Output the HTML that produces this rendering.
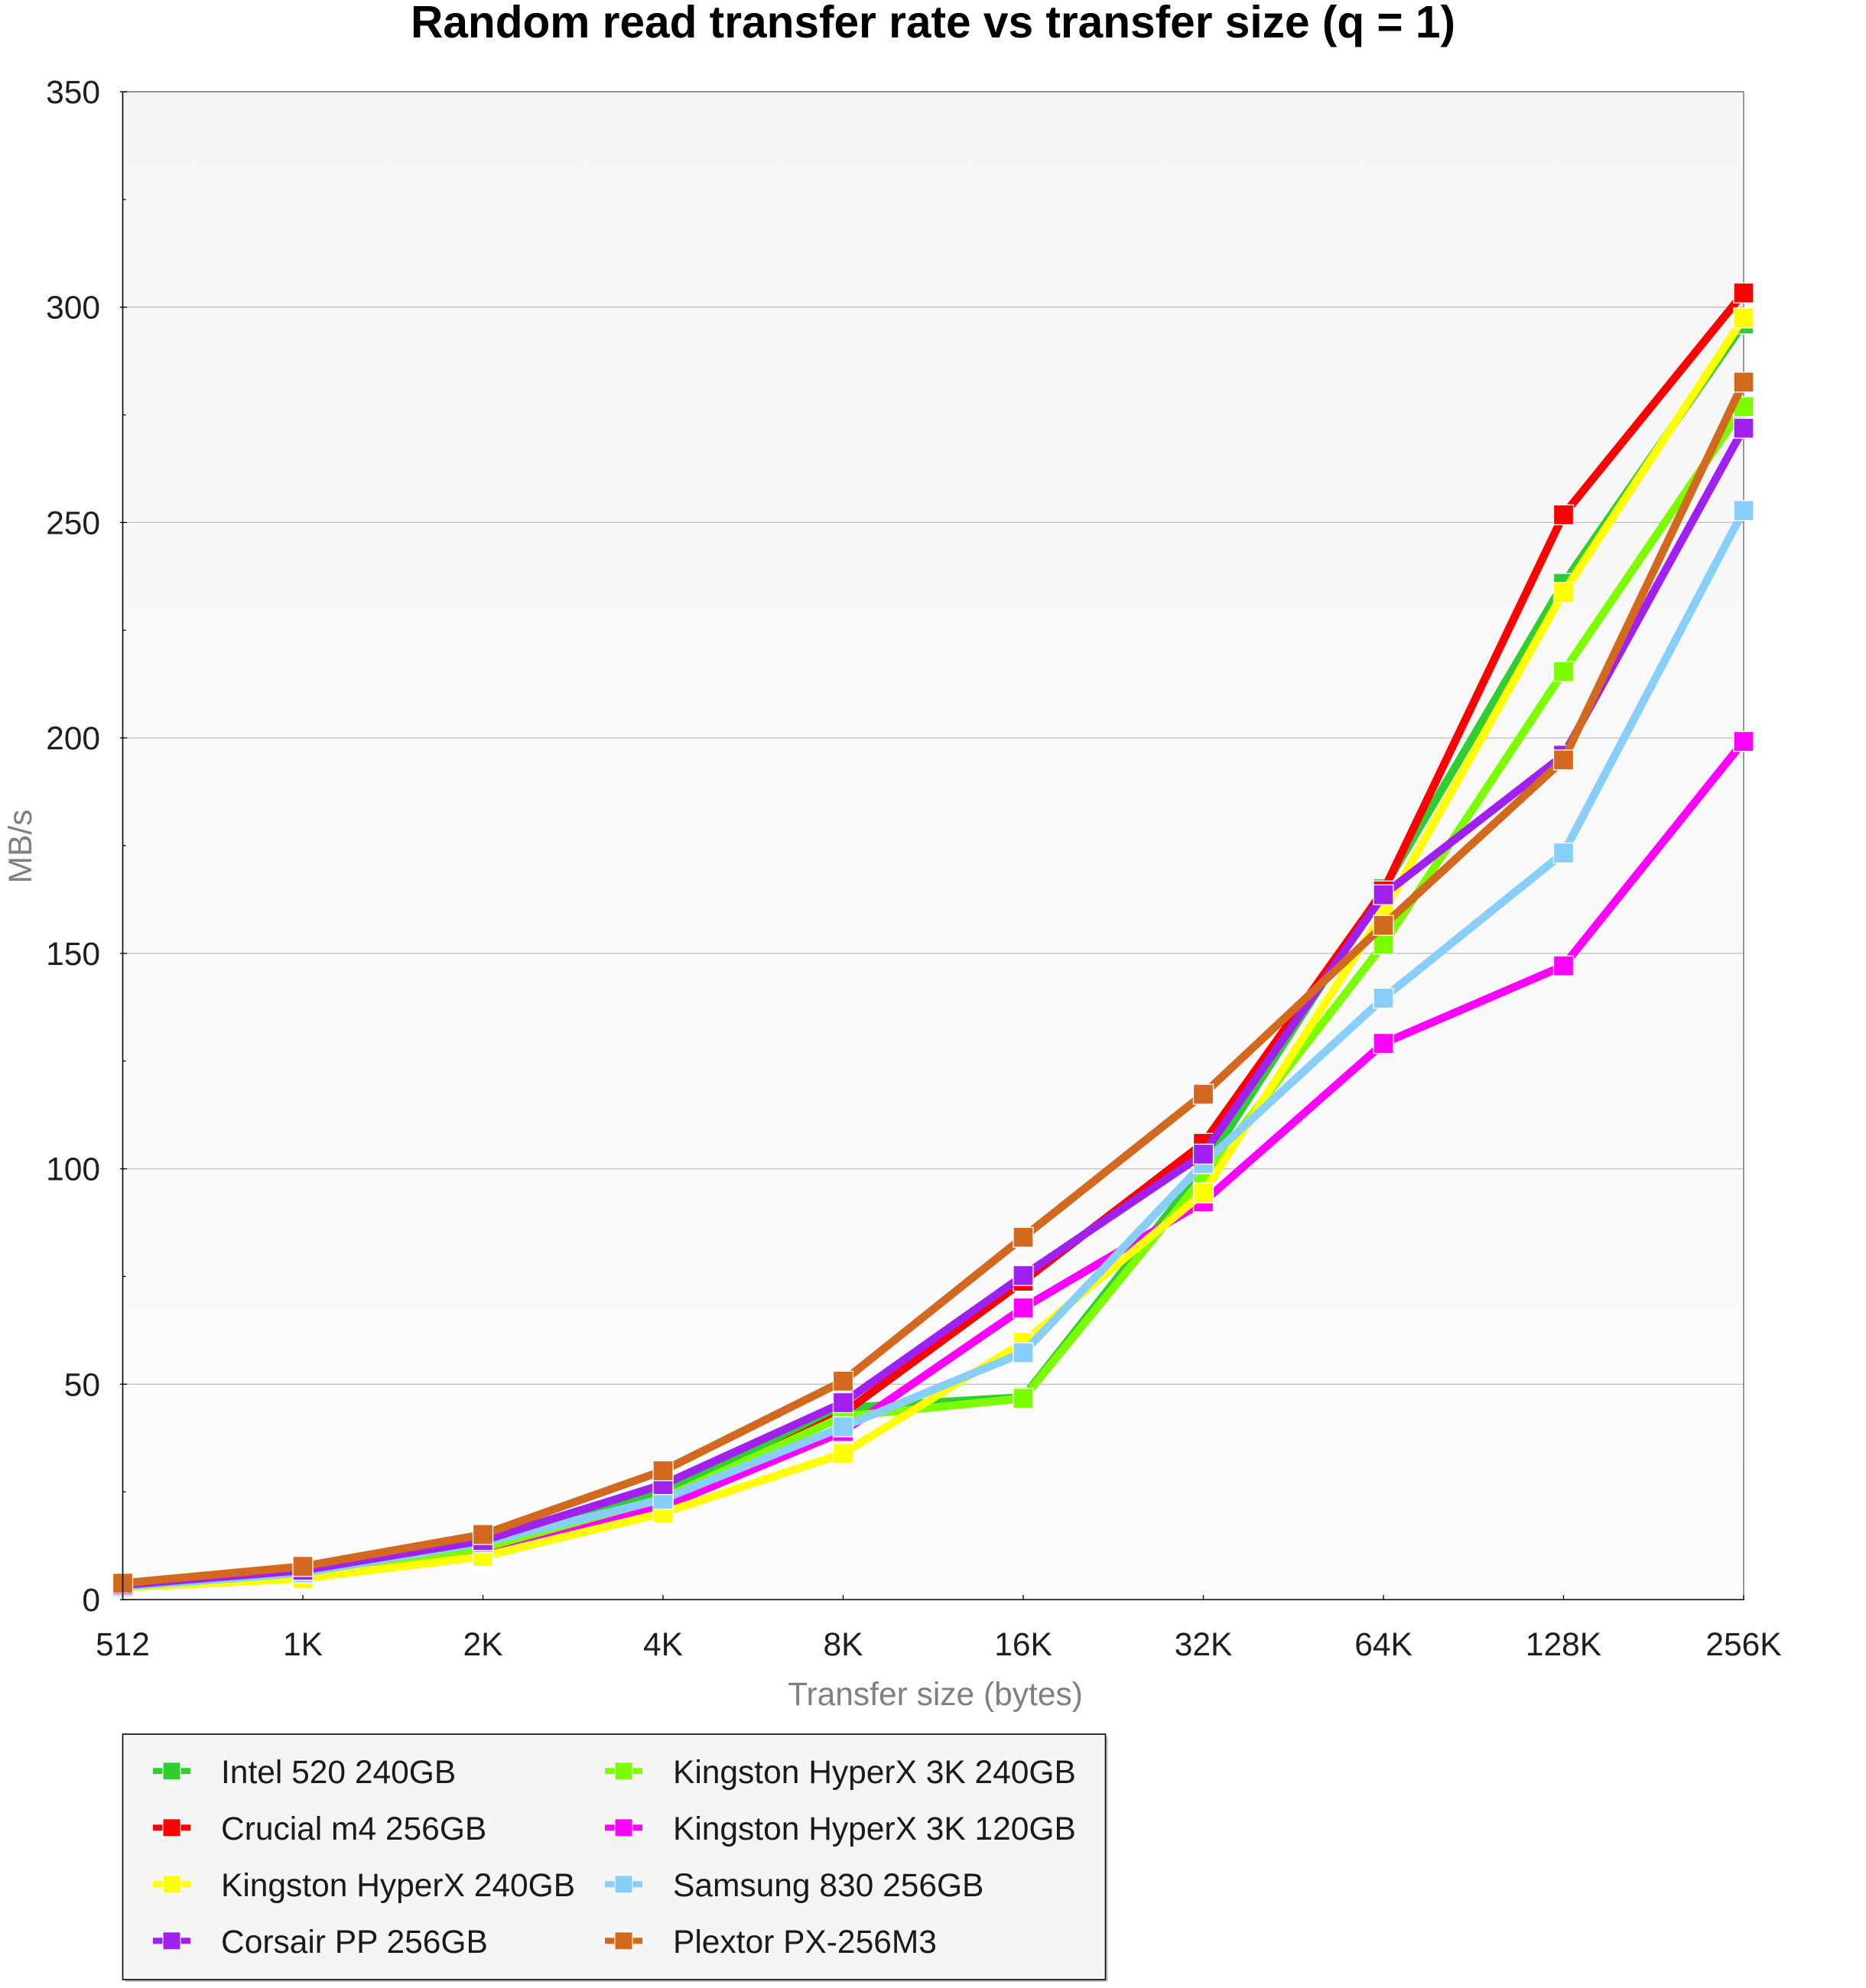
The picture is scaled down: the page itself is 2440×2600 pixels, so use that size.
<!DOCTYPE html>
<html>
<head>
<meta charset="utf-8">
<style>
html,body{margin:0;padding:0;background:#fff;}
svg{display:block;}
text{font-family:"Liberation Sans",Arial,sans-serif;}
</style>
</head>
<body>
<svg width="2440" height="2600" viewBox="0 0 2440 2600" xmlns="http://www.w3.org/2000/svg">
<defs>
<linearGradient id="bg" x1="0" y1="0" x2="0" y2="1">
<stop offset="0" stop-color="#f5f5f5"/>
<stop offset="1" stop-color="#fcfcfc"/>
</linearGradient>
<marker id="m1" markerUnits="userSpaceOnUse" markerWidth="30" markerHeight="30" refX="15" refY="15" overflow="visible"><rect x="2" y="2" width="26" height="26" fill="#32cd32" stroke="#fff" stroke-width="1.3"/></marker>
<marker id="m2" markerUnits="userSpaceOnUse" markerWidth="30" markerHeight="30" refX="15" refY="15" overflow="visible"><rect x="2" y="2" width="26" height="26" fill="#ff0000" stroke="#fff" stroke-width="1.3"/></marker>
<marker id="m3" markerUnits="userSpaceOnUse" markerWidth="30" markerHeight="30" refX="15" refY="15" overflow="visible"><rect x="2" y="2" width="26" height="26" fill="#ffff00" stroke="#fff" stroke-width="1.3"/></marker>
<marker id="m4" markerUnits="userSpaceOnUse" markerWidth="30" markerHeight="30" refX="15" refY="15" overflow="visible"><rect x="2" y="2" width="26" height="26" fill="#a020f0" stroke="#fff" stroke-width="1.3"/></marker>
<marker id="m5" markerUnits="userSpaceOnUse" markerWidth="30" markerHeight="30" refX="15" refY="15" overflow="visible"><rect x="2" y="2" width="26" height="26" fill="#7cfc00" stroke="#fff" stroke-width="1.3"/></marker>
<marker id="m6" markerUnits="userSpaceOnUse" markerWidth="30" markerHeight="30" refX="15" refY="15" overflow="visible"><rect x="2" y="2" width="26" height="26" fill="#ff00ff" stroke="#fff" stroke-width="1.3"/></marker>
<marker id="m7" markerUnits="userSpaceOnUse" markerWidth="30" markerHeight="30" refX="15" refY="15" overflow="visible"><rect x="2" y="2" width="26" height="26" fill="#87cefa" stroke="#fff" stroke-width="1.3"/></marker>
<marker id="m8" markerUnits="userSpaceOnUse" markerWidth="30" markerHeight="30" refX="15" refY="15" overflow="visible"><rect x="2" y="2" width="26" height="26" fill="#d2691e" stroke="#fff" stroke-width="1.3"/></marker>
</defs>

<!-- Title -->
<text x="1220" y="49" text-anchor="middle" font-size="59" font-weight="bold" fill="#000" textLength="1366" lengthAdjust="spacingAndGlyphs">Random read transfer rate vs transfer size (q = 1)</text>

<!-- Plot background -->
<rect x="160.5" y="120" width="2119.5" height="1972" fill="url(#bg)"/>

<!-- Grid lines -->
<g stroke="#c0c0c0" stroke-width="1.3">
<line x1="161" y1="1810.3" x2="2280" y2="1810.3"/>
<line x1="161" y1="1528.6" x2="2280" y2="1528.6"/>
<line x1="161" y1="1246.9" x2="2280" y2="1246.9"/>
<line x1="161" y1="965.1" x2="2280" y2="965.1"/>
<line x1="161" y1="683.4" x2="2280" y2="683.4"/>
<line x1="161" y1="401.7" x2="2280" y2="401.7"/>
</g>

<!-- top & right border -->
<line x1="160.5" y1="120" x2="2280" y2="120" stroke="#707070" stroke-width="1.4"/>
<line x1="2280" y1="120" x2="2280" y2="2092" stroke="#707070" stroke-width="1.4"/>

<!-- Series -->
<g fill="none" stroke-width="10.5" stroke-linejoin="round">
<polyline stroke="#32cd32" marker-start="url(#m1)" marker-mid="url(#m1)" marker-end="url(#m1)" points="160.5,2073.97 396,2055.38 631.5,2019.88 867,1948.33 1102.5,1841.27 1338,1827.19 1573.5,1528.57 1809,1162.34 2044.5,762.87 2280,423.68"/>
<polyline stroke="#ff0000" marker-start="url(#m2)" marker-mid="url(#m2)" marker-end="url(#m2)" points="160.5,2075.10 396,2058.19 631.5,2025.52 867,1965.23 1102.5,1848.60 1338,1675.63 1573.5,1495.33 1809,1165.16 2044.5,673.28 2280,383.12"/>
<polyline stroke="#ff00ff" marker-start="url(#m6)" marker-mid="url(#m6)" marker-end="url(#m6)" points="160.5,2075.10 396,2058.19 631.5,2027.21 867,1970.86 1102.5,1872.26 1338,1710.56 1573.5,1571.95 1809,1364.61 2044.5,1263.19 2280,969.65"/>
<polyline stroke="#7cfc00" marker-start="url(#m5)" marker-mid="url(#m5)" marker-end="url(#m5)" points="160.5,2075.10 396,2058.19 631.5,2024.39 867,1959.59 1102.5,1852.54 1338,1828.88 1573.5,1539.84 1809,1235.02 2044.5,878.37 2280,531.86"/>
<polyline stroke="#ffff00" marker-start="url(#m3)" marker-mid="url(#m3)" marker-end="url(#m3)" points="160.5,2076.51 396,2064.39 631.5,2035.66 867,1978.75 1102.5,1901.00 1338,1755.63 1573.5,1560.12 1809,1193.33 2044.5,774.70 2280,415.80"/>
<polyline stroke="#87cefa" marker-start="url(#m7)" marker-mid="url(#m7)" marker-end="url(#m7)" points="160.5,2075.10 396,2057.07 631.5,2017.63 867,1960.72 1102.5,1866.06 1338,1769.15 1573.5,1521.81 1809,1305.45 2044.5,1115.58 2280,667.65"/>
<polyline stroke="#a020f0" marker-start="url(#m4)" marker-mid="url(#m4)" marker-end="url(#m4)" points="160.5,2072.84 396,2053.69 631.5,2014.81 867,1941.56 1102.5,1834.51 1338,1668.30 1573.5,1509.41 1809,1170.23 2044.5,987.68 2280,560.03"/>
<polyline stroke="#d2691e" marker-start="url(#m8)" marker-mid="url(#m8)" marker-end="url(#m8)" points="160.5,2070.59 396,2048.62 631.5,2006.92 867,1923.53 1102.5,1806.34 1338,1618.16 1573.5,1431.10 1809,1210.23 2044.5,993.87 2280,499.75"/>
</g>

<!-- Axes -->
<line x1="160.5" y1="120" x2="160.5" y2="2093" stroke="#000" stroke-width="1.6"/>
<line x1="160" y1="2092" x2="2281" y2="2092" stroke="#000" stroke-width="1.6"/>

<!-- Y ticks -->
<g stroke="#000" stroke-width="1.3">
<line x1="157" y1="2092" x2="166" y2="2092"/>
<line x1="157" y1="1810.3" x2="166" y2="1810.3"/>
<line x1="157" y1="1528.6" x2="166" y2="1528.6"/>
<line x1="157" y1="1246.9" x2="166" y2="1246.9"/>
<line x1="157" y1="965.1" x2="166" y2="965.1"/>
<line x1="157" y1="683.4" x2="166" y2="683.4"/>
<line x1="157" y1="401.7" x2="166" y2="401.7"/>
<line x1="157" y1="120" x2="166" y2="120"/>
<line x1="160" y1="1951.1" x2="164.5" y2="1951.1"/>
<line x1="160" y1="1669.4" x2="164.5" y2="1669.4"/>
<line x1="160" y1="1387.7" x2="164.5" y2="1387.7"/>
<line x1="160" y1="1106.0" x2="164.5" y2="1106.0"/>
<line x1="160" y1="824.3" x2="164.5" y2="824.3"/>
<line x1="160" y1="542.6" x2="164.5" y2="542.6"/>
<line x1="160" y1="260.9" x2="164.5" y2="260.9"/>
</g>

<!-- X ticks -->
<g stroke="#000" stroke-width="1.3">
<line x1="396" y1="2086" x2="396" y2="2092"/>
<line x1="631.5" y1="2086" x2="631.5" y2="2092"/>
<line x1="867" y1="2086" x2="867" y2="2092"/>
<line x1="1102.5" y1="2086" x2="1102.5" y2="2092"/>
<line x1="1338" y1="2086" x2="1338" y2="2092"/>
<line x1="1573.5" y1="2086" x2="1573.5" y2="2092"/>
<line x1="1809" y1="2086" x2="1809" y2="2092"/>
<line x1="2044.5" y1="2086" x2="2044.5" y2="2092"/>
<line x1="2280" y1="2086" x2="2280" y2="2092"/>
</g>

<!-- Y labels -->
<g font-size="42.5" fill="#1e1e1e" text-anchor="end">
<text x="131" y="2107">0</text>
<text x="131" y="1825.3">50</text>
<text x="131" y="1543.6">100</text>
<text x="131" y="1261.9">150</text>
<text x="131" y="980.1">200</text>
<text x="131" y="698.4">250</text>
<text x="131" y="416.7">300</text>
<text x="131" y="135">350</text>
</g>

<!-- X labels -->
<g font-size="42.5" fill="#1e1e1e" text-anchor="middle">
<text x="160.5" y="2165">512</text>
<text x="396" y="2165">1K</text>
<text x="631.5" y="2165">2K</text>
<text x="867" y="2165">4K</text>
<text x="1102.5" y="2165">8K</text>
<text x="1338" y="2165">16K</text>
<text x="1573.5" y="2165">32K</text>
<text x="1809" y="2165">64K</text>
<text x="2044.5" y="2165">128K</text>
<text x="2280" y="2165">256K</text>
</g>

<!-- Axis titles -->
<text x="1223" y="2230" font-size="42.5" fill="#808080" text-anchor="middle">Transfer size (bytes)</text>
<text transform="translate(41,1107) rotate(-90)" x="0" y="0" font-size="42.5" fill="#808080" text-anchor="middle">MB/s</text>

<!-- Legend -->
<rect x="163.5" y="2271" width="1285" height="321" fill="#c0c0c0"/>
<rect x="160.5" y="2268" width="1285" height="321" fill="#f5f5f5" stroke="#000" stroke-width="1.6"/>

<g>
<rect x="200" y="2312.3" width="49" height="8" fill="#32cd32"/>
<rect x="213" y="2304.8" width="23" height="23" fill="#32cd32" stroke="#fff" stroke-width="1"/>
<rect x="200" y="2386.3" width="49" height="8" fill="#ff0000"/>
<rect x="213" y="2378.8" width="23" height="23" fill="#ff0000" stroke="#fff" stroke-width="1"/>
<rect x="200" y="2460.3" width="49" height="8" fill="#ffff00"/>
<rect x="213" y="2452.8" width="23" height="23" fill="#ffff00" stroke="#fff" stroke-width="1"/>
<rect x="200" y="2534.3" width="49" height="8" fill="#a020f0"/>
<rect x="213" y="2526.8" width="23" height="23" fill="#a020f0" stroke="#fff" stroke-width="1"/>

<rect x="791" y="2312.3" width="49" height="8" fill="#7cfc00"/>
<rect x="804" y="2304.8" width="23" height="23" fill="#7cfc00" stroke="#fff" stroke-width="1"/>
<rect x="791" y="2386.3" width="49" height="8" fill="#ff00ff"/>
<rect x="804" y="2378.8" width="23" height="23" fill="#ff00ff" stroke="#fff" stroke-width="1"/>
<rect x="791" y="2460.3" width="49" height="8" fill="#87cefa"/>
<rect x="804" y="2452.8" width="23" height="23" fill="#87cefa" stroke="#fff" stroke-width="1"/>
<rect x="791" y="2534.3" width="49" height="8" fill="#d2691e"/>
<rect x="804" y="2526.8" width="23" height="23" fill="#d2691e" stroke="#fff" stroke-width="1"/>
</g>

<g font-size="42.5" fill="#1a1a1a">
<text x="289" y="2332">Intel 520 240GB</text>
<text x="289" y="2406">Crucial m4 256GB</text>
<text x="289" y="2480">Kingston HyperX 240GB</text>
<text x="289" y="2554">Corsair PP 256GB</text>
<text x="880" y="2332">Kingston HyperX 3K 240GB</text>
<text x="880" y="2406">Kingston HyperX 3K 120GB</text>
<text x="880" y="2480">Samsung 830 256GB</text>
<text x="880" y="2554">Plextor PX-256M3</text>
</g>
</svg>
</body>
</html>
